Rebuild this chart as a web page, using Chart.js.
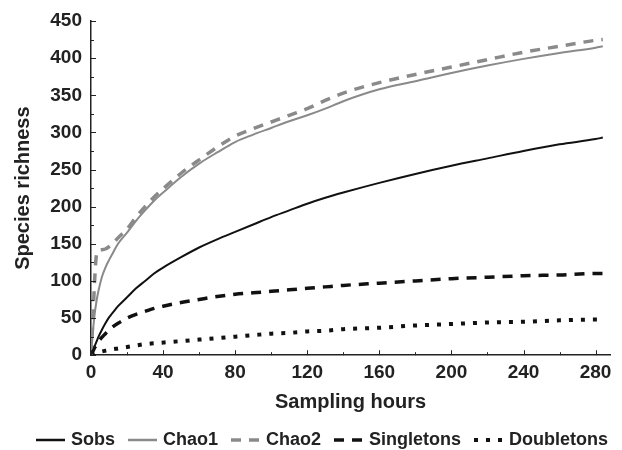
<!DOCTYPE html>
<html>
<head>
<meta charset="utf-8">
<script src="https://cdn.jsdelivr.net/npm/chart.js@4"></script>
<style>
  html, body { margin: 0; padding: 0; background: #fff; }
  #wrap { width: 622px; height: 450px; }
</style>
</head>
<body>
<div id="wrap"><canvas id="chart"></canvas></div>
<script>
// datos
const hours = [0, 1, 2, 3, 4, 6, 8, 10, 12, 15, 20, 25, 30, 35, 40, 50, 60, 70, 80, 90, 100, 110, 120, 130, 140, 160, 180, 200, 220, 240, 260, 280, 284];
const sobs = [0, 6, 12, 18, 24, 34, 43, 51, 57, 66, 78, 90, 100, 110, 118, 132, 145, 156, 166, 176, 186, 195, 204, 212, 219, 232, 244, 255, 265, 275, 284, 291, 293];
const chao1 = [0, 30, 55, 72, 85, 105, 118, 128, 137, 150, 165, 181, 195, 208, 219, 240, 258, 273, 287, 297, 306, 315, 323, 332, 342, 358, 369, 380, 390, 399, 407, 414, 416];
const chao2 = [0, 45, 100, 135, 141, 142, 143, 146, 150, 158, 170, 186, 200, 213, 224, 245, 263, 280, 295, 305, 314, 323, 332, 343, 353, 367, 378, 388, 398, 408, 416, 424, 425];
const singletons = [0, 5, 10, 14, 18, 24, 29, 34, 38, 43, 50, 55, 59, 63, 66, 71, 75, 79, 82, 84, 86, 88, 90, 92, 94, 97, 100, 103, 105, 107, 108, 110, 110];
const doubletons = [0, 1, 2, 3, 4, 5, 6, 7, 8, 9, 11, 13, 15, 16, 17, 19, 21, 23, 25, 27, 29, 30, 32, 33, 35, 37, 40, 42, 44, 45, 47, 48, 48];
const xTicks = [0, 40, 80, 120, 160, 200, 240, 280];
const yTicks = [0, 50, 100, 150, 200, 250, 300, 350, 400, 450];

const FONT = "'Liberation Sans', Arial, sans-serif";
const TEXT = '#222';

function pts(values) {
    return hours.map((h, i) => ({ x: h, y: values[i] }));
}

function serie(label, values, color, width, dash) {
    return {
        label,
        data: pts(values),
        borderColor: color,
        backgroundColor: color,
        borderWidth: width,
        borderDash: dash,
        borderCapStyle: 'butt',
        pointRadius: 0,
        fill: false,
        cubicInterpolationMode: 'monotone'
    };
}

// marcas pequenas hacia adentro (mayores y menores)
const innerTicks = {
    id: 'innerTicks',
    afterDraw(chart) {
        const { ctx, chartArea, scales } = chart;
        ctx.save();
        ctx.strokeStyle = TEXT;
        ctx.lineWidth = 1;
        for (let v = 0; v <= 288; v += 20) {
            const px = Math.round(scales.x.getPixelForValue(v)) + 0.5;
            const len = v % 40 === 0 ? 5 : 3;
            ctx.beginPath();
            ctx.moveTo(px, chartArea.bottom);
            ctx.lineTo(px, chartArea.bottom - len);
            ctx.stroke();
        }
        for (let v = 0; v <= 450; v += 25) {
            const py = Math.round(scales.y.getPixelForValue(v)) + 0.5;
            const len = v % 50 === 0 ? 5 : 3;
            ctx.beginPath();
            ctx.moveTo(chartArea.left, py);
            ctx.lineTo(chartArea.left + len, py);
            ctx.stroke();
        }
        ctx.restore();
    }
};

// leyenda abajo, con los trazos de cada serie
const bottomLegend = {
    id: 'bottomLegend',
    afterDraw(chart) {
        const { ctx } = chart;
        const lineLen = 29, gapText = 6, gapItem = 13;
        const y = 440;
        ctx.save();
        ctx.font = 'bold 18px ' + FONT;
        ctx.textBaseline = 'middle';
        const sets = chart.data.datasets;
        let total = 0;
        sets.forEach((d, i) => {
            total += lineLen + gapText + ctx.measureText(d.label).width;
            if (i < sets.length - 1) total += gapItem;
        });
        let x = 322 - total / 2;
        sets.forEach(d => {
            ctx.strokeStyle = d.borderColor;
            ctx.lineWidth = Math.max(d.borderWidth, 2.5);
            ctx.setLineDash(d.borderDash || []);
            ctx.beginPath();
            ctx.moveTo(x, y);
            ctx.lineTo(x + lineLen, y);
            ctx.stroke();
            ctx.setLineDash([]);
            x += lineLen + gapText;
            ctx.fillStyle = TEXT;
            ctx.fillText(d.label, x, y);
            x += ctx.measureText(d.label).width + gapItem;
        });
        ctx.restore();
    }
};

new Chart(document.getElementById('chart'), {
    type: 'line',
    data: {
        datasets: [
            serie('Sobs', sobs, '#111', 2, []),
            serie('Chao1', chao1, '#8a8a8a', 2, []),
            serie('Chao2', chao2, '#8a8a8a', 3.5, [10, 8]),
            serie('Singletons', singletons, '#111', 3.5, [10, 8]),
            serie('Doubletons', doubletons, '#111', 4, [4, 8])
        ]
    },
    options: {
        responsive: true,
        maintainAspectRatio: false,
        animation: false,
        layout: { padding: { left: 0, right: 12, top: 21, bottom: 36 } },
        plugins: {
            tooltip: { enabled: false },
            legend: { display: false }
        },
        scales: {
            x: {
                type: 'linear',
                min: 0,
                max: 288,
                afterBuildTicks: s => { s.ticks = xTicks.map(v => ({ value: v })); },
                ticks: {
                    color: TEXT,
                    padding: 6,
                    maxRotation: 0,
                    font: { family: FONT, size: 19, weight: 'bold' }
                },
                grid: { display: true, drawOnChartArea: false, drawTicks: false },
                border: { color: TEXT, width: 1.5 },
                title: {
                    display: true,
                    text: 'Sampling hours',
                    color: TEXT,
                    padding: { top: 0, bottom: 0 },
                    font: { family: FONT, size: 20, weight: 'bold' }
                }
            },
            y: {
                min: 0,
                max: 450,
                afterBuildTicks: s => { s.ticks = yTicks.map(v => ({ value: v })); },
                afterFit: s => { s.width = 91; },
                ticks: {
                    color: TEXT,
                    padding: 9,
                    font: { family: FONT, size: 19, weight: 'bold' }
                },
                grid: { display: true, drawOnChartArea: false, drawTicks: false },
                border: { color: TEXT, width: 1.5 },
                title: {
                    display: true,
                    text: 'Species richness',
                    color: TEXT,
                    padding: { top: 11, bottom: 0 },
                    font: { family: FONT, size: 20, weight: 'bold' }
                }
            }
        }
    },
    plugins: [innerTicks, bottomLegend]
});
</script>
</body>
</html>
